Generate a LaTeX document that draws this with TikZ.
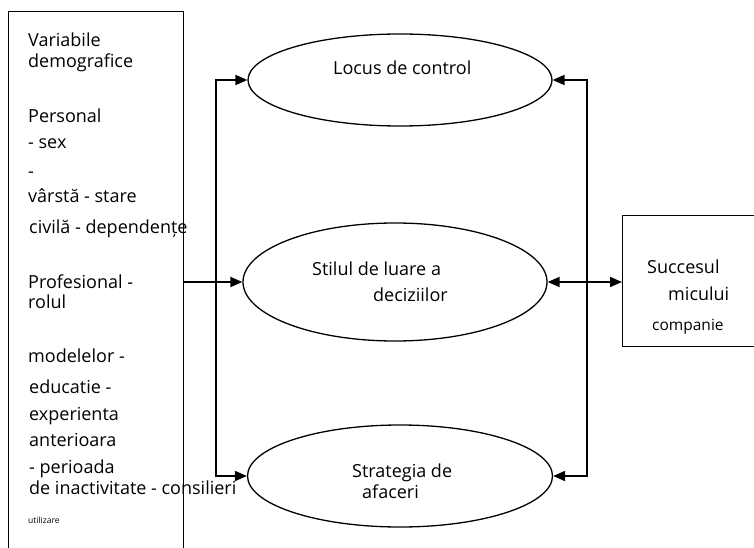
\documentclass[tikz,border=0pt]{standalone}
\usepackage{fontspec}
\setmainfont{Open Sans}
\usetikzlibrary{arrows.meta,shapes.geometric}
\begin{document}
\begin{tikzpicture}[x=1pt,y=-1pt,
  txt/.style={anchor=base west,inner sep=0pt,font=\fontsize{18}{21}\selectfont},
  oval/.style={draw,ellipse,line width=1.3pt,inner sep=0pt},
  boxshape/.style={draw,rectangle,line width=1.4pt,inner sep=0pt},
  conn/.style={line width=1.8pt,-{Triangle[length=12pt,width=10pt]}},
  conn2/.style={line width=1.8pt,{Triangle[length=12pt,width=10pt]}-{Triangle[length=12pt,width=10pt]}}]
\useasboundingbox (0,0) rectangle (754,548);
\clip (0,0) rectangle (754,548);
% left box
\node[boxshape,minimum width=175pt,minimum height=560pt,anchor=north west] (left) at (8,11) {};
% ellipses
\node[oval,minimum width=304pt,minimum height=92pt] (e1) at (400,80) {};
\node[oval,minimum width=304pt,minimum height=118pt] (e2) at (395,282) {};
\node[oval,minimum width=305pt,minimum height=102pt] (e3) at (400,476) {};
% right box
\node[boxshape,minimum width=140pt,minimum height=131pt,anchor=north west] (right) at (622,215) {};
% connectors
\coordinate (busL) at (216,282);
\coordinate (busR) at (587,282);
\draw[conn] (left.east |- e2.west) -- (e2.west);
\draw[conn] (busL) |- (e1.west);
\draw[conn] (busL) |- (e3.west);
\draw[conn] (busR) |- (e1.east);
\draw[conn] (busR) |- (e3.east);
\draw[conn2] (e2.east) -- (right.west |- e2.east);
% left box texts
\node[txt] (t1) at (28,47) {Variabile};
\node[txt] (t2) at (28,68) {demografice};
\node[txt] (t3) at (28,123) {Personal};
\node[txt] (t4) at (28,149) {- sex};
\node[txt] (t5) at (28,178) {-};
\node[txt] (t6) at (28,202) {vârstă - stare};
\node[txt] (t7) at (29,233) {civilă - dependențe};
\node[txt] (t8) at (28,288) {Profesional -};
\node[txt] (t9) at (28,308) {rolul};
\node[txt] (t10) at (28,362) {modelelor -};
\node[txt] (t11) at (29,393) {educatie -};
\node[txt] (t12) at (29,420) {experienta};
\node[txt] (t13) at (29,446) {anterioara};
\node[txt] (t14) at (29,473) {- perioada};
\node[txt] (t15) at (29,494) {de inactivitate - consilieri};
\node[txt,font=\fontsize{8.5}{10}\selectfont] (t16) at (28,523) {utilizare};
% ellipse texts
\node[txt] (l1) at (333,75) {Locus de control};
\node[txt] (l2) at (312,275) {Stilul de luare a};
\node[txt] (l3) at (373,301) {deciziilor};
\node[txt] (l4) at (352,477) {Strategia de};
\node[txt] (l5) at (362,498) {afaceri};
% right box texts
\node[txt] (r1) at (647,273) {Succesul};
\node[txt] (r2) at (668,300) {micului};
\node[txt,font=\fontsize{15.5}{18}\selectfont] (r3) at (652,330) {companie};
\end{tikzpicture}
\end{document}
